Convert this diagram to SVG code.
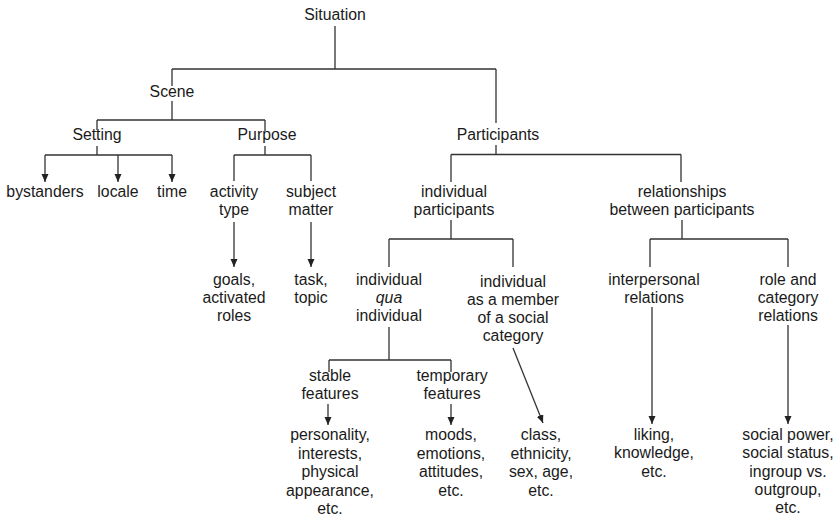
<svg xmlns="http://www.w3.org/2000/svg" width="838" height="519" viewBox="0 0 838 519">
<style>
text{font-family:"Liberation Sans",Arial,sans-serif;font-size:15.8px;fill:#1a1a1a;text-anchor:middle}
.c path{fill:none;stroke:#333;stroke-width:1.3}
.a{marker-end:url(#ah)}
</style>
<defs>
<marker id="ah" markerUnits="userSpaceOnUse" markerWidth="9" markerHeight="8" refX="8" refY="3.5" orient="auto">
<path d="M0,0 L8,3.5 L0,7 z" fill="#222"/>
</marker>
</defs>
<rect width="838" height="519" fill="#fff"/>
<g class="c" id="connectors">
<path d="M335,26 V69 M172,69 H496 M172,69 V86 M496,69 V123"/>
<path d="M172,101 V120 M97,120 H265 M97,120 V130 M265,120 V131"/>
<path d="M97,146 V155 M45,155 H172"/>
<path class="a" d="M45,155 V182"/>
<path class="a" d="M118,155 V182"/>
<path class="a" d="M172,155 V182"/>
<path d="M265,146 V155 M234,155 H311 M234,155 V181 M311,155 V181"/>
<path class="a" d="M234,222 V267"/>
<path class="a" d="M311,222 V267"/>
<path d="M496,145 V154.5 M451,154.5 H681 M451,154.5 V182 M681,154.5 V182"/>
<path d="M451,220 V239 M389,239 H513 M389,239 V267 M513,239 V267"/>
<path d="M682,220 V239 M650,239 H788 M650,239 V267 M788,239 V267"/>
<path d="M389,327 V360 M329,360 H451 M329,360 V372 M451,360 V372"/>
<path class="a" d="M328,404 V425"/>
<path class="a" d="M451,404 V425"/>
<path class="a" d="M513,348 L543,423"/>
<path class="a" d="M652,307 V424"/>
<path class="a" d="M788,325 V424"/>
</g>
<g id="situation"><text x="335" y="20">Situation</text></g>
<g id="scene"><text x="172" y="97">Scene</text></g>
<g id="setting"><text x="97" y="140">Setting</text></g>
<g id="purpose"><text x="267" y="140">Purpose</text></g>
<g id="participants"><text x="498" y="140">Participants</text></g>
<g id="bystanders"><text x="45" y="197">bystanders</text></g>
<g id="locale"><text x="118" y="197">locale</text></g>
<g id="time"><text x="172" y="197">time</text></g>
<g id="activity-type"><text x="234" y="197">activity</text><text x="234" y="215">type</text></g>
<g id="subject-matter"><text x="311" y="197">subject</text><text x="311" y="215">matter</text></g>
<g id="goals"><text x="234" y="285">goals,</text><text x="234" y="303">activated</text><text x="234" y="321">roles</text></g>
<g id="task"><text x="311" y="285">task,</text><text x="311" y="303">topic</text></g>
<g id="individual-participants"><text x="454" y="197">individual</text><text x="454" y="215">participants</text></g>
<g id="relationships"><text x="682" y="197">relationships</text><text x="682" y="215">between participants</text></g>
<g id="qua"><text x="389" y="285">individual</text><text x="389" y="303" font-style="italic">qua</text><text x="389" y="321">individual</text></g>
<g id="member"><text x="513" y="287">individual</text><text x="513" y="305">as a member</text><text x="513" y="323">of a social</text><text x="513" y="341">category</text></g>
<g id="interpersonal"><text x="654" y="285">interpersonal</text><text x="654" y="303">relations</text></g>
<g id="role"><text x="788" y="285">role and</text><text x="788" y="303">category</text><text x="788" y="321">relations</text></g>
<g id="stable"><text x="330" y="381">stable</text><text x="330" y="399">features</text></g>
<g id="temporary"><text x="452" y="381">temporary</text><text x="452" y="399">features</text></g>
<g id="personality"><text x="330" y="440">personality,</text><text x="330" y="459">interests,</text><text x="330" y="477">physical</text><text x="330" y="496">appearance,</text><text x="330" y="514">etc.</text></g>
<g id="moods"><text x="451" y="440">moods,</text><text x="451" y="459">emotions,</text><text x="451" y="477">attitudes,</text><text x="451" y="496">etc.</text></g>
<g id="class"><text x="541" y="440">class,</text><text x="541" y="459">ethnicity,</text><text x="541" y="477">sex, age,</text><text x="541" y="496">etc.</text></g>
<g id="liking"><text x="654" y="440">liking,</text><text x="654" y="458">knowledge,</text><text x="654" y="477">etc.</text></g>
<g id="social"><text x="788" y="440">social power,</text><text x="788" y="458">social status,</text><text x="788" y="477">ingroup vs.</text><text x="788" y="495">outgroup,</text><text x="788" y="513">etc.</text></g>
</svg>
